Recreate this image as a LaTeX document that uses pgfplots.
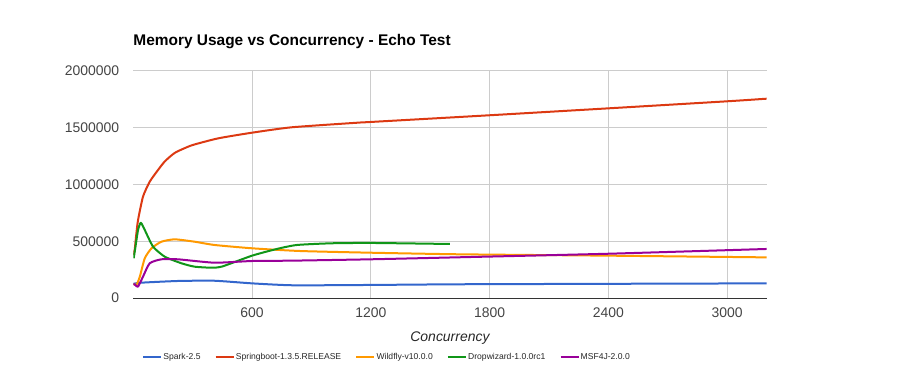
\documentclass[border=0pt]{standalone}
\usepackage{fontspec}
\setmainfont{Liberation Sans}
\usepackage{pgfplots}
\pgfplotsset{compat=1.18}
\definecolor{cblue}{HTML}{3366CC}
\definecolor{cred}{HTML}{DC3912}
\definecolor{corange}{HTML}{FF9900}
\definecolor{cgreen}{HTML}{109618}
\definecolor{cpurple}{HTML}{990099}
\definecolor{cgrid}{HTML}{CCCCCC}
\definecolor{ctick}{HTML}{444444}
\definecolor{cbase}{HTML}{333333}
\begin{document}
\begin{tikzpicture}[x=1bp,y=1bp]
\path[use as bounding box] (-133.3,-73) rectangle (767.7,298);
\begin{axis}[
  at={(0,0)}, anchor=south west,
  width=633.3bp, height=227bp, scale only axis,
  xmin=0, xmax=3200, ymin=0, ymax=2000000,
  xtick={600,1200,1800,2400,3000},
  xticklabels={600,1200,1800,2400,3000},
  ytick={0,500000,1000000,1500000,2000000},
  yticklabels={0,500000,1000000,1500000,2000000},
  scaled ticks=false,
  major tick length=0pt,
  grid=major,
  major grid style={draw=cgrid, line width=1bp},
  axis x line*=bottom, axis y line*=left,
  x axis line style={draw=cbase, line width=1bp, -},
  y axis line style={draw=none},
  ticklabel style={font=\fontsize{14}{16}\selectfont, text=ctick, inner sep=0pt},
  yticklabel style={anchor=east, xshift=-14bp},
  xticklabel style={anchor=center, yshift=-15bp},
  xlabel={Concurrency},
  xlabel style={font=\fontsize{14}{16}\selectfont\itshape, text=black!85, at={(axis description cs:0.5,0)}, anchor=center, yshift=-40.5bp, inner sep=0pt},
  title={Memory Usage vs Concurrency - Echo Test},
  title style={font=\fontsize{15.5}{18}\selectfont\bfseries, at={(axis description cs:0,1)}, anchor=base west, yshift=20bp, inner sep=0pt},
  legend columns=5,
  legend image code/.code={\draw[#1] (0bp,0bp) -- (18bp,0bp);},
  legend style={at={(axis description cs:0,0)}, anchor=west, xshift=8.7bp, yshift=-59bp,
    draw=none, fill=none, inner sep=0pt, font=\fontsize{8.6}{10}\selectfont, text=black!85,
    nodes={inner sep=1.2bp},
    /tikz/every even column/.append style={column sep=13bp}},
  legend cell align=left,
  every axis plot/.append style={line width=2bp, line join=round, smooth, tension=0.35},
]
\addplot[cblue] coordinates {(1,125000)(41,135000)(226,150000)(411,152000)(600,129000)(808,112000)(1200,115000)(1651,121000)(2400,125000)(3200,129000)};
\addlegendentry{Spark-2.5}
\addplot[cred] coordinates {(1,380000)(7,423000)(15,560000)(24,687000)(49,893000)(83,1025000)(125,1128000)(160,1205000)(211,1280000)(295,1345000)(430,1407000)(598,1456000)(800,1504000)(1137,1545000)(1200,1551000)(1800,1610000)(2400,1671000)(3000,1733000)(3200,1756000)};
\addlegendentry{Springboot-1.3.5.RELEASE}
\addplot[corange] coordinates {(1,125000)(16,115000)(33,188000)(58,350000)(92,438000)(142,496000)(209,517000)(310,496000)(411,467000)(600,438000)(843,414000)(1200,399000)(1651,385000)(2400,373000)(3200,358000)};
\addlegendentry{Wildfly-v10.0.0}
\addplot[cgreen] coordinates {(2,350000)(10,440000)(24,599000)(38,663000)(58,599000)(100,452000)(159,364000)(243,306000)(310,276000)(396,267000)(450,278000)(600,373000)(725,432000)(826,467000)(1000,482000)(1200,485000)(1600,476000)};
\addlegendentry{Dropwizard-1.0.0rc1}
\addplot[cpurple] coordinates {(1,125000)(12,112000)(24,100000)(49,188000)(83,306000)(142,341000)(226,341000)(411,311000)(600,326000)(800,329000)(1200,341000)(1651,359000)(2400,390000)(3200,432000)};
\addlegendentry{MSF4J-2.0.0}
\end{axis}
\end{tikzpicture}
\end{document}
